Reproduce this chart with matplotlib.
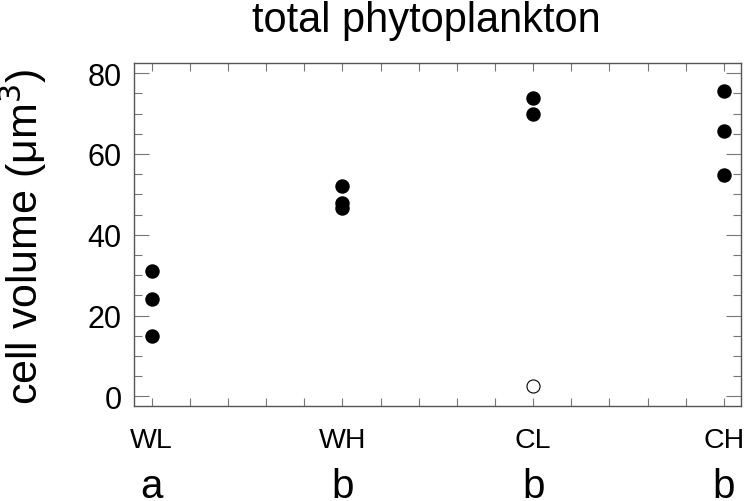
import matplotlib
matplotlib.use("Agg")
import matplotlib.pyplot as plt
from matplotlib.ticker import MultipleLocator, FixedLocator
from matplotlib.transforms import blended_transform_factory

plt.rcParams['font.family'] = ['Liberation Sans', 'DejaVu Sans']

categories = ["WL", "WH", "CL", "CH"]
letters = ["a", "b", "b", "b"]
filled_vals = {
    "WL": [31.1, 24.1, 14.9],
    "WH": [52.1, 47.8, 46.7],
    "CL": [73.8, 69.8],
    "CH": [75.6, 65.7, 54.9],
}
open_cat = ["CL"]
open_vals = [2.5]

W, H = 745, 502
fig = plt.figure(figsize=(W/100, H/100), dpi=100)
ax = fig.add_axes([134/W, (H-407)/H, (741-134)/W, (407-64)/H])

for i, c in enumerate(categories):
    v = filled_vals[c]
    ax.plot([i]*len(v), v, 'o', color='black', markersize=9.4, linestyle='none')
for c, v in zip(open_cat, open_vals):
    i = categories.index(c)
    ax.plot([i], [v], 'o', markerfacecolor='white', markeredgecolor='black',
            markeredgewidth=0.8, markersize=9.4, linestyle='none')

ax.set_xlim(-0.093, 3.09)
ax.set_ylim(-2.4, 82.5)

ax.xaxis.set_major_locator(FixedLocator(range(len(categories))))
ax.xaxis.set_minor_locator(MultipleLocator(0.2))
ax.set_xticklabels(categories)
ax.yaxis.set_major_locator(MultipleLocator(20))
ax.yaxis.set_minor_locator(MultipleLocator(5))

for s in ax.spines.values():
    s.set_color('#555555')
    s.set_linewidth(1.0)

ax.tick_params(axis='both', which='both', direction='in', top=True, right=True,
               color='#777777', width=0.8)
ax.tick_params(axis='y', which='major', length=11, labelsize=22, pad=9)
ax.tick_params(axis='y', which='minor', length=6)
ax.tick_params(axis='x', which='both', length=6)
ax.tick_params(axis='x', which='major', labelsize=20.5, pad=15)

tr = blended_transform_factory(ax.transData, fig.transFigure)
for i, l in enumerate(letters):
    ax.text(i, 3.5/H, l, transform=tr, ha='center', va='baseline', fontsize=29)

fig.text(38/W, (H-236.5)/H, "cell volume (μm$^3$)", rotation=90, fontsize=31,
         ha='center', va='baseline', rotation_mode='anchor')
fig.text(252/W, (H-32)/H, "total phytoplankton", fontsize=30, ha='left', va='baseline')

fig.savefig("out.png", dpi=100)
